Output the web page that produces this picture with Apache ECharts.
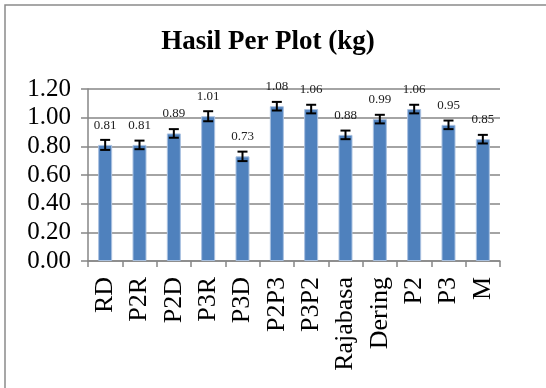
<!DOCTYPE html>
<html>
<head>
<meta charset="utf-8">
<script src="https://cdn.jsdelivr.net/npm/echarts@6/dist/echarts.min.js"></script>
<style>
  html, body { margin: 0; padding: 0; background: #fff; }
  #chart { width: 546px; height: 388px; }
</style>
</head>
<body>
<div id="chart"></div>
<script>
// values
var categories = ['RD', 'P2R', 'P2D', 'P3R', 'P3D', 'P2P3', 'P3P2', 'Rajabasa', 'Dering', 'P2', 'P3', 'M'];
var hasil = [0.81, 0.81, 0.89, 1.01, 0.73, 1.08, 1.06, 0.88, 0.99, 1.06, 0.95, 0.85];
var galat = [0.035, 0.03, 0.03, 0.035, 0.033, 0.03, 0.03, 0.03, 0.03, 0.03, 0.03, 0.03];
var yTicks = [0, 0.2, 0.4, 0.6, 0.8, 1.0, 1.2];

var serif = '"Liberation Serif", "DejaVu Serif", serif';
var axisGray = '#868686';

var errData = hasil.map(function (v, i) { return [i, v, galat[i]]; });

var chart = echarts.init(document.getElementById('chart'));
chart.setOption({
    animation: false,
    backgroundColor: '#fff',
    title: {
        text: 'Hasil Per Plot (kg)',
        left: 263,
        top: 24,
        textAlign: 'center',
        textStyle: { fontFamily: serif, fontWeight: 'bold', fontSize: 27, color: '#000' }
    },
    graphic: [{
        type: 'rect',
        shape: { x: 5, y: 5, width: 600, height: 450 },
        style: { fill: 'none', stroke: '#8a8a8a', lineWidth: 1.5 },
        silent: true
    }],
    grid: { left: 88, right: 46, top: 89, bottom: 127 },
    xAxis: {
        type: 'category',
        data: categories,
        axisLine: { lineStyle: { color: axisGray, width: 1.5 } },
        axisTick: { show: true, length: 6, lineStyle: { color: axisGray, width: 1.5 } },
        axisLabel: {
            interval: 0, hideOverlap: false, rotate: 90, margin: 16,
            fontFamily: serif, fontSize: 26, color: '#000'
        }
    },
    yAxis: {
        type: 'value',
        min: yTicks[0],
        max: yTicks[yTicks.length - 1],
        interval: 0.2,
        axisLine: { show: true, lineStyle: { color: axisGray, width: 1.5 } },
        axisTick: { show: true, length: 7, lineStyle: { color: axisGray, width: 1.5 } },
        axisLabel: {
            margin: 17, fontFamily: serif, fontSize: 25, color: '#000',
            formatter: function (v) { return v.toFixed(2); }
        },
        splitLine: { lineStyle: { color: axisGray, width: 1.5 } }
    },
    series: [{
        type: 'bar',
        data: hasil,
        barWidth: 14,
        itemStyle: { color: '#4f81bd', borderColor: '#a9c1e0', borderWidth: 1 },
        label: {
            show: true, position: 'top', distance: 13,
            fontFamily: serif, fontSize: 13, color: '#222',
            formatter: function (p) { return p.value.toFixed(2); }
        }
    }, {
        type: 'custom',
        data: errData,
        z: 5,
        renderItem: function (params, api) {
            var x = api.value(0), v = api.value(1), e = api.value(2);
            var hi = api.coord([x, v + e]);
            var lo = api.coord([x, v - e]);
            var hw = 5;
            var st = { stroke: '#000', lineWidth: 2 };
            return {
                type: 'group',
                children: [
                    { type: 'line', shape: { x1: hi[0], y1: hi[1], x2: lo[0], y2: lo[1] }, style: st },
                    { type: 'line', shape: { x1: hi[0] - hw, y1: hi[1], x2: hi[0] + hw, y2: hi[1] }, style: st },
                    { type: 'line', shape: { x1: lo[0] - hw, y1: lo[1], x2: lo[0] + hw, y2: lo[1] }, style: st }
                ]
            };
        }
    }]
});
</script>
</body>
</html>
